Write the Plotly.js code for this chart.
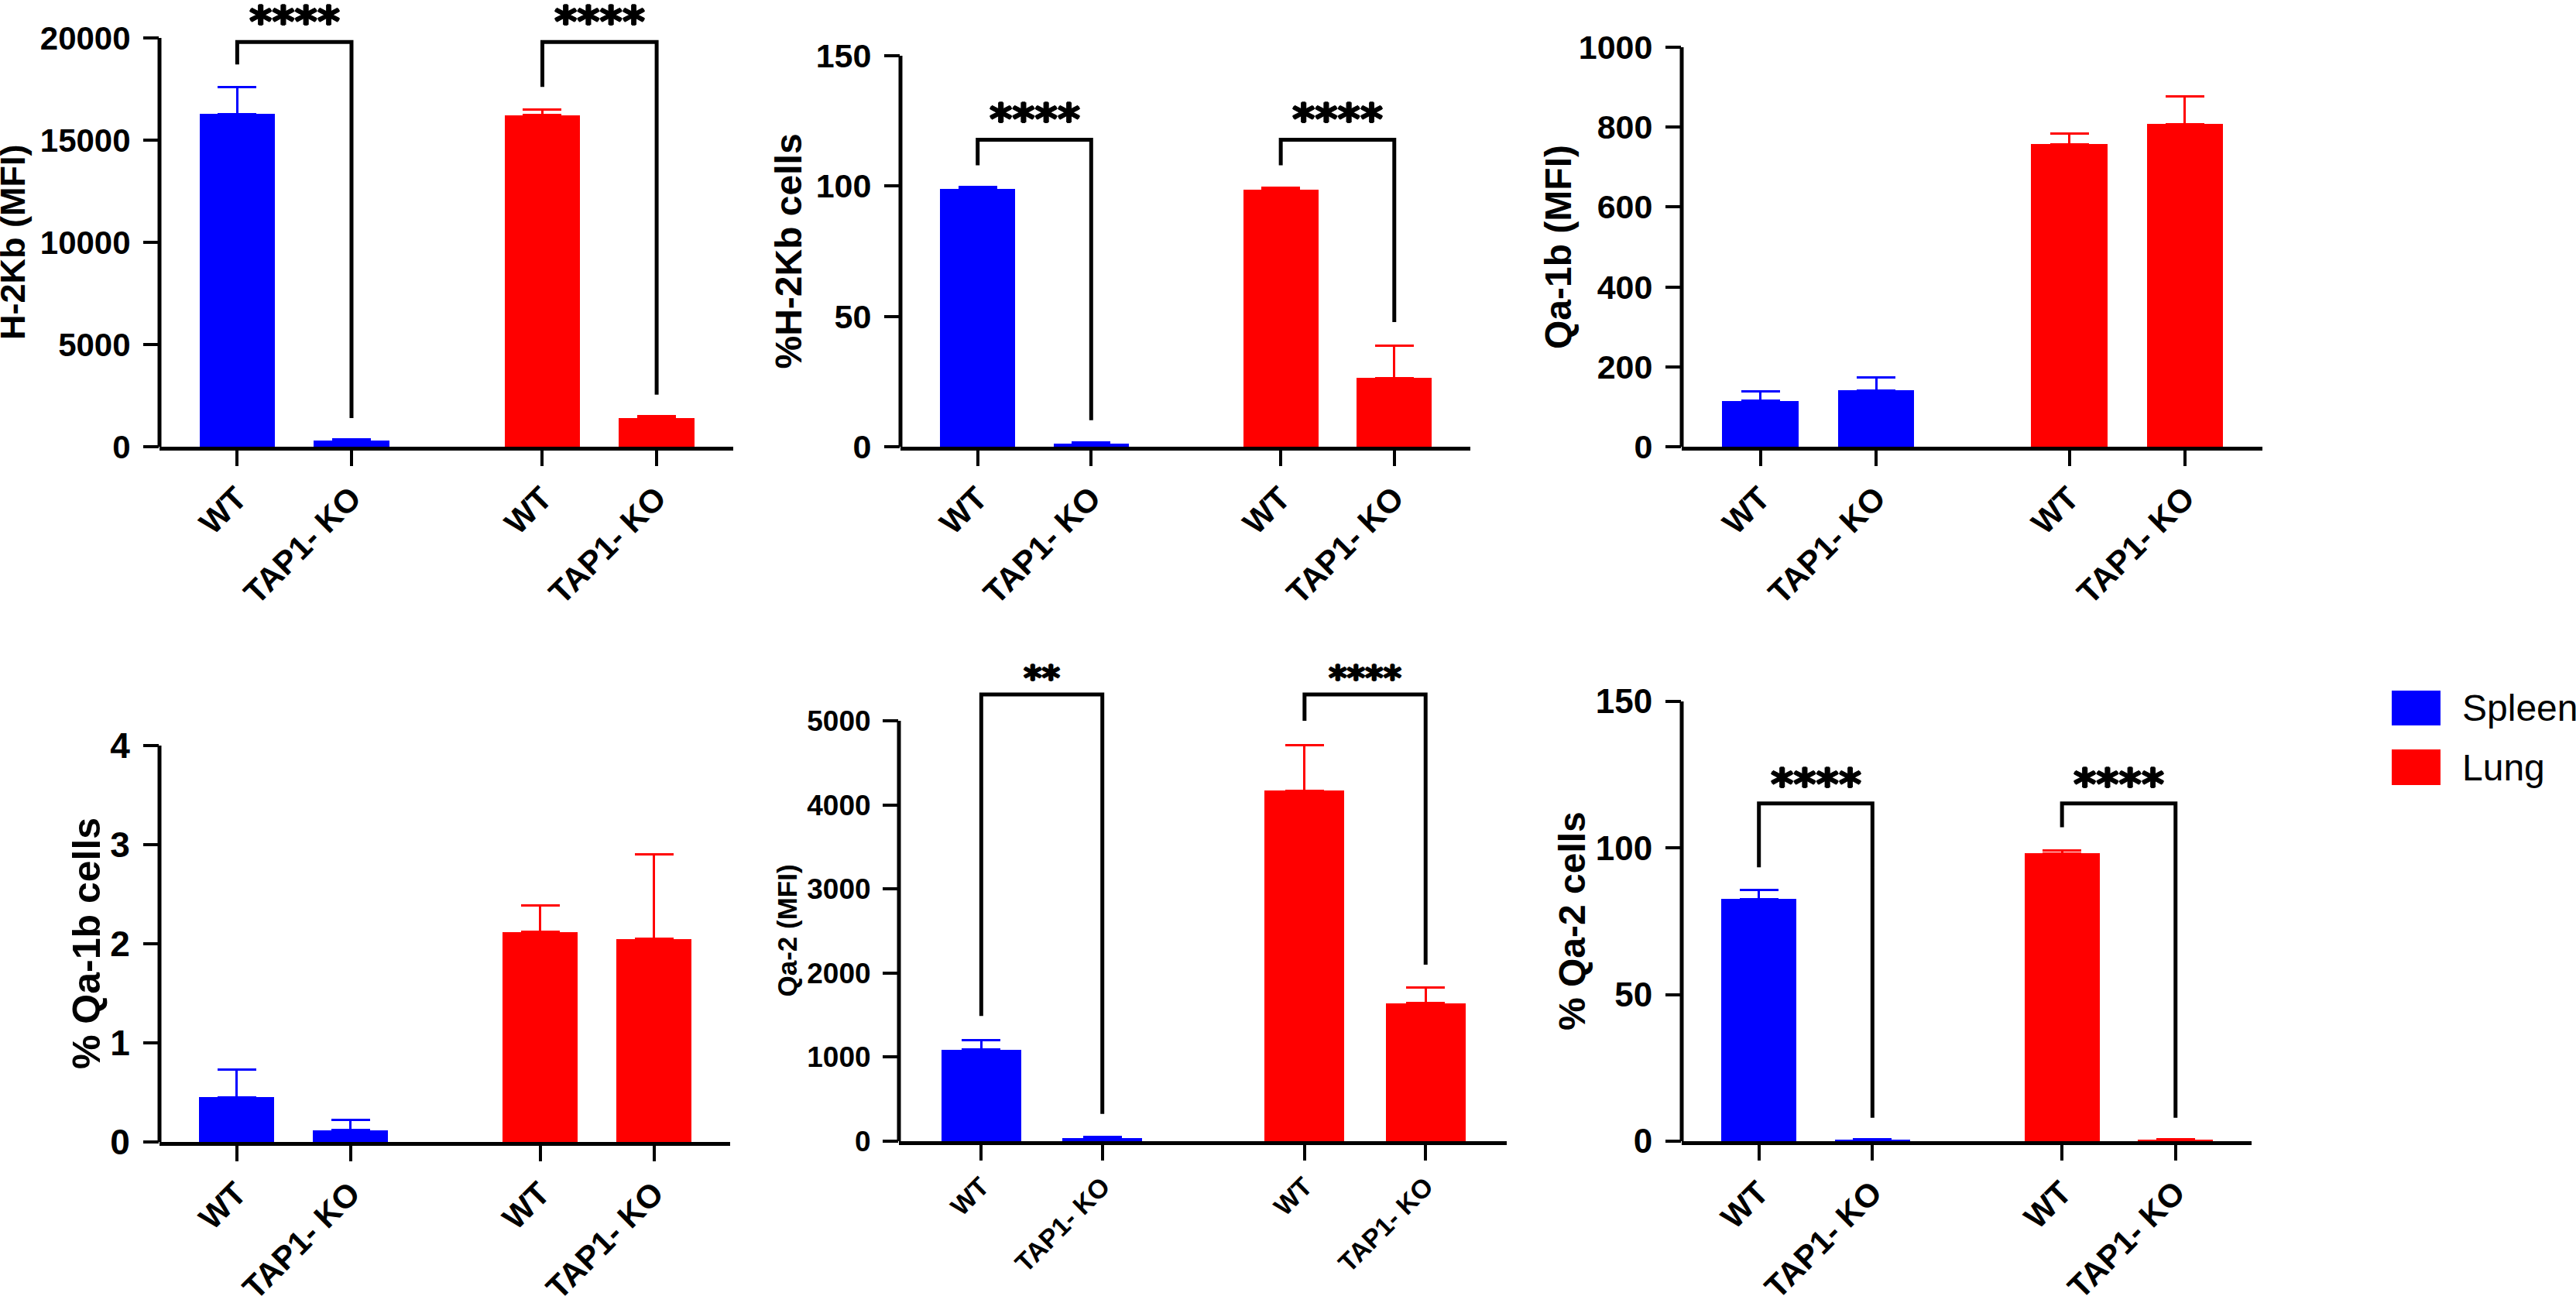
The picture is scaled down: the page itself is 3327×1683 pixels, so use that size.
<!DOCTYPE html>
<html>
<head>
<meta charset="utf-8">
<script src="https://cdn.plot.ly/plotly-3.0.1.min.js"></script>
<style>html, body { margin: 0; padding: 0; background: #fff; }</style>
</head>
<body>
<div id="chart" style="width:3327px;height:1683px"></div>
<script>
/***** data *****/
var tissues = ['Spleen', 'Lung'];
var tickLabels = ['WT', 'TAP1- KO', 'WT', 'TAP1- KO'];

// bar order: Spleen WT, Spleen TAP1-KO, Lung WT, Lung TAP1-KO
var h2kbMfi = [16280, 300, 16230, 1400];
var h2kbMfiSd = [1310, 70, 260, 90];

var h2kbPct = [98.8, 1.2, 98.6, 26.3];
var h2kbPctSd = [0.9, 0.5, 0.7, 12.6];

var qa1bMfi = [115, 141, 757, 808];
var qa1bMfiSd = [24, 33, 27, 68];

var qa1bPct = [0.45, 0.12, 2.12, 2.05];
var qa1bPctSd = [0.28, 0.1, 0.27, 0.85];

var qa2Mfi = [1090, 35, 4170, 1640];
var qa2MfiSd = [112, 12, 540, 185];

var qa2Pct = [82.6, 0.4, 98.2, 0.4];
var qa2PctSd = [3.1, 0.3, 0.9, 0.3];

// significance: [left bar, right bar, bracket height, left leg end, right leg end, label, label height]
var h2kbMfiSig = [[0, 1, 19800, 18700, 1400, '****', 21200], [2, 3, 19800, 17600, 2550, '****', 21200]];
var h2kbPctSig = [[0, 1, 117.8, 108, 10.2, '****', 128.8], [2, 3, 117.8, 108, 47.8, '****', 128.8]];
var qa2MfiSig = [[0, 1, 5313, 1490, 325, '**', 5600], [2, 3, 5313, 5000, 2100, '****', 5600]];
var qa2PctSig = [[0, 1, 115.2, 93.4, 8, '****', 124.6], [2, 3, 115.2, 107.1, 8, '****', 124.6]];

var ticksH2kbMfi = [0, 5000, 10000, 15000, 20000];
var ticksPct150 = [0, 50, 100, 150];
var ticksQa1bMfi = [0, 200, 400, 600, 800, 1000];
var ticksQa1bPct = [0, 1, 2, 3, 4];
var ticksQa2Mfi = [0, 1000, 2000, 3000, 4000, 5000];

/***** layout *****/
var W = 3327, H = 1683;
var xPos = [0, 1, 2.67, 3.67];
var colors = ['#0000ff', '#ff0000'];
var arial = 'Liberation Sans, Arial, sans-serif';
var lw = 5;

// px: [left, right, top tick, zero line] in page pixels
var panels = [
  {title: 'H-2Kb (MFI)', vals: h2kbMfi, sd: h2kbMfiSd, ticks: ticksH2kbMfi, sig: h2kbMfiSig,
   px: [206, 947, 49, 577], titleX: 16, titleSize: 45, tickSize: 42, starSize: 56},
  {title: '%H-2Kb cells', vals: h2kbPct, sd: h2kbPctSd, ticks: ticksPct150, sig: h2kbPctSig,
   px: [1163, 1899, 72, 577], titleX: 1018, titleSize: 48, tickSize: 43, starSize: 56},
  {title: 'Qa-1b (MFI)', vals: qa1bMfi, sd: qa1bMfiSd, ticks: ticksQa1bMfi, sig: [],
   px: [2172, 2922, 61, 577], titleX: 2012, titleSize: 48, tickSize: 43, starSize: 56},
  {title: '% Qa-1b cells', vals: qa1bPct, sd: qa1bPctSd, ticks: ticksQa1bPct, sig: [],
   px: [206, 943, 963, 1475], titleX: 112, titleSize: 50, tickSize: 46, starSize: 56},
  {title: 'Qa-2 (MFI)', vals: qa2Mfi, sd: qa2MfiSd, ticks: ticksQa2Mfi, sig: qa2MfiSig,
   px: [1161, 1946, 931, 1474], titleX: 1016, titleSize: 35, tickSize: 37, starSize: 45},
  {title: '% Qa-2 cells', vals: qa2Pct, sd: qa2PctSd, ticks: ticksPct150, sig: qa2PctSig,
   px: [2172, 2908, 906, 1474], titleX: 2030, titleSize: 48, tickSize: 44, starSize: 56}
];

var data = [];
var layout = {
  width: W,
  height: H,
  margin: {l: 0, r: 0, t: 0, b: 0},
  paper_bgcolor: '#fff',
  plot_bgcolor: 'rgba(0,0,0,0)',
  showlegend: false,
  bargap: 0,
  shapes: [],
  annotations: []
};

var starShadow = '1.2px 0 0 #000, -1.2px 0 0 #000, 0 1.2px 0 #000, 0 -1.2px 0 #000';

panels.forEach(function (p, i) {
  var n = i + 1;
  var xa = 'x' + n, ya = 'y' + n;
  var top = p.ticks[p.ticks.length - 1];
  var span = p.px[3] - p.px[2];
  var ext = Math.min(1.15, p.px[3] / span);
  var topPx = p.px[3] - span * ext;

  tissues.forEach(function (t, k) {
    data.push({
      type: 'bar',
      name: t,
      x: xPos.slice(2 * k, 2 * k + 2),
      y: p.vals.slice(2 * k, 2 * k + 2),
      width: 0.66,
      xaxis: xa,
      yaxis: ya,
      marker: {color: colors[k], line: {width: 0}},
      error_y: {
        type: 'data',
        symmetric: false,
        array: p.sd.slice(2 * k, 2 * k + 2),
        arrayminus: [0, 0],
        color: colors[k],
        thickness: 3,
        width: 25
      },
      hoverinfo: 'skip'
    });
  });

  layout['xaxis' + n] = {
    domain: [p.px[0] / W, p.px[1] / W],
    anchor: ya,
    range: [-0.68, 4.34],
    tickvals: xPos,
    ticktext: tickLabels,
    tickangle: -45,
    ticks: 'outside',
    ticklen: 20,
    tickwidth: 4,
    tickcolor: '#000',
    showline: true,
    linewidth: lw,
    linecolor: '#000',
    showgrid: false,
    zeroline: false,
    tickfont: {family: arial, size: i === 4 ? 34 : 42, weight: 'bold', color: '#000'},
    fixedrange: true
  };
  layout['yaxis' + n] = {
    domain: [1 - p.px[3] / H, 1 - topPx / H],
    anchor: xa,
    range: [0, top * ext],
    tickvals: p.ticks,
    tickformat: 'd',
    ticks: 'outside',
    ticklen: 20,
    tickwidth: 4,
    tickcolor: '#000',
    ticklabelstandoff: 8,
    showline: false,
    showgrid: false,
    zeroline: false,
    tickfont: {family: arial, size: p.tickSize, weight: 'bold', color: '#000'},
    fixedrange: true
  };

  // y axis line, stopping at the top tick as in the original
  layout.shapes.push({
    type: 'line', xref: xa + ' domain', yref: ya,
    x0: 0, x1: 0, y0: 0, y1: top,
    line: {color: '#000', width: lw}
  });

  layout.annotations.push({
    xref: 'paper', yref: 'paper',
    x: p.titleX / W, y: 1 - (p.px[2] + p.px[3]) / 2 / H,
    xanchor: 'center', yanchor: 'middle',
    textangle: -90, showarrow: false,
    text: p.title,
    font: {family: arial, size: p.titleSize, weight: 'bold', color: '#000'}
  });

  p.sig.forEach(function (s) {
    var x0 = xPos[s[0]], x1 = xPos[s[1]];
    layout.shapes.push({
      type: 'path', xref: xa, yref: ya,
      path: 'M' + x0 + ',' + s[3] + ' L' + x0 + ',' + s[2] + ' L' + x1 + ',' + s[2] + ' L' + x1 + ',' + s[4],
      line: {color: '#000', width: lw}
    });
    layout.annotations.push({
      xref: xa, yref: ya,
      x: (x0 + x1) / 2, y: s[6],
      xanchor: 'center', yanchor: 'middle', yshift: -10,
      showarrow: false, text: s[5],
      font: {family: 'DejaVu Sans, sans-serif', size: p.starSize, weight: 'bold', color: '#000', shadow: starShadow}
    });
  });
});

// legend
var legendBoxes = [[892, 937], [968, 1014]];
tissues.forEach(function (t, k) {
  var b = legendBoxes[k];
  layout.shapes.push({
    type: 'rect', xref: 'paper', yref: 'paper',
    x0: 3089 / W, x1: 3152 / W, y0: 1 - b[1] / H, y1: 1 - b[0] / H,
    fillcolor: colors[k], line: {width: 0}
  });
  layout.annotations.push({
    xref: 'paper', yref: 'paper',
    x: 3178 / W, y: 1 - (b[0] + b[1]) / 2 / H,
    xanchor: 'left', yanchor: 'middle', showarrow: false,
    text: t,
    font: {family: arial, size: 48, color: '#000'}
  });
});

var config = {staticPlot: true, displayModeBar: false};
Plotly.newPlot('chart', data, layout, config);
</script>
</body>
</html>
